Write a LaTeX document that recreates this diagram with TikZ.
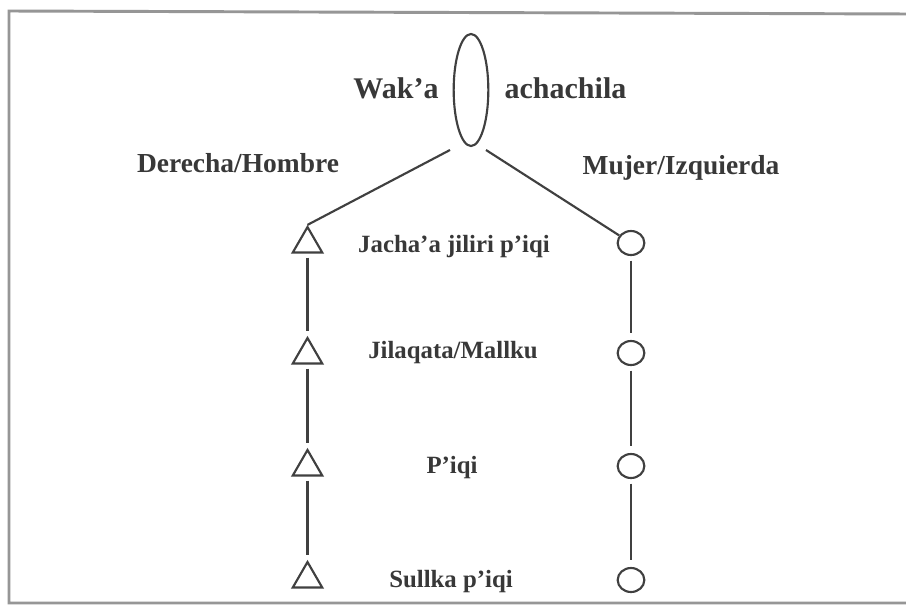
\documentclass[tikz,border=0pt]{standalone}
\usepackage{fontspec}
\setmainfont{Liberation Serif}
\usetikzlibrary{shapes.geometric}
\definecolor{ink}{HTML}{383838}
\definecolor{linecol}{HTML}{404040}
\definecolor{framecol}{HTML}{969696}
\tikzset{
  bigword/.style={font=\bfseries\fontsize{22.5pt}{26pt}\selectfont, text=ink, anchor=base, inner sep=0pt},
  sideword/.style={font=\bfseries\fontsize{20.6pt}{24pt}\selectfont, text=ink, anchor=base, inner sep=0pt},
  rankword/.style={font=\bfseries\fontsize{18.6pt}{22pt}\selectfont, text=ink, anchor=base, inner sep=0pt},
  maleshape/.style={regular polygon, regular polygon sides=3, minimum size=25.5pt, inner sep=0pt, draw=linecol, line width=1.6pt},
  femaleshape/.style={ellipse, minimum width=20pt, minimum height=18pt, inner sep=0pt, draw=linecol, line width=1.6pt},
  link/.style={draw=linecol, line width=1.6pt},
}
\begin{document}
\begin{tikzpicture}[x=0.75pt, y=-0.75pt]
  \useasboundingbox (0,0) rectangle (906,607);
  \fill[white] (0,0) rectangle (906,607);
  % outer frame, open on the right
  \draw[framecol, line width=2.2pt] (910,14) -- (9,11) -- (9,603) -- (910,603);

  % ancestor
  \node[ellipse, draw=linecol, line width=1.6pt, minimum width=26pt, minimum height=84pt, inner sep=0pt] (anc) at (471,90) {};
  \node[bigword] (waka) at (396,98) {Wak’a};
  \node[bigword] (achachila) at (565.5,98) {achachila};

  % the two sides
  \node[sideword] (right) at (238,172) {Derecha/Hombre};
  \node[sideword] (left) at (681,174) {Mujer/Izquierda};

  % male line
  \node[maleshape] (t1) at (307.5,244) {};
  \node[maleshape] (t2) at (307.5,355) {};
  \node[maleshape] (t3) at (307.5,467) {};
  \node[maleshape] (t4) at (307.5,579) {};

  % female line
  \node[femaleshape] (c1) at (631,243) {};
  \node[femaleshape] (c2) at (631,353) {};
  \node[femaleshape] (c3) at (631,466) {};
  \node[femaleshape] (c4) at (631,580) {};

  % ranks
  \node[rankword] (r1) at (454,252) {Jacha’a jiliri p’iqi};
  \node[rankword] (r2) at (453,358) {Jilaqata/Mallku};
  \node[rankword] (r3) at (452,473) {P’iqi};
  \node[rankword] (r4) at (451,587) {Sullka p’iqi};

  % branches from the ancestor
  \coordinate (bl) at (450,150);
  \coordinate (br) at (486,150);
  \path[link] (bl) -- (t1.north);
  \path[link] (br) -- (c1);

  % descent lines
  \foreach \a/\b in {t1/t2, t2/t3, t3/t4}
    \path[link, shorten <=3pt, shorten >=4pt] (\a.south) -- (\b.north);
  \foreach \a/\b in {c1/c2, c2/c3, c3/c4}
    \path[link, shorten <=3.5pt, shorten >=5pt] (\a.south) -- (\b.north);
\end{tikzpicture}
\end{document}
